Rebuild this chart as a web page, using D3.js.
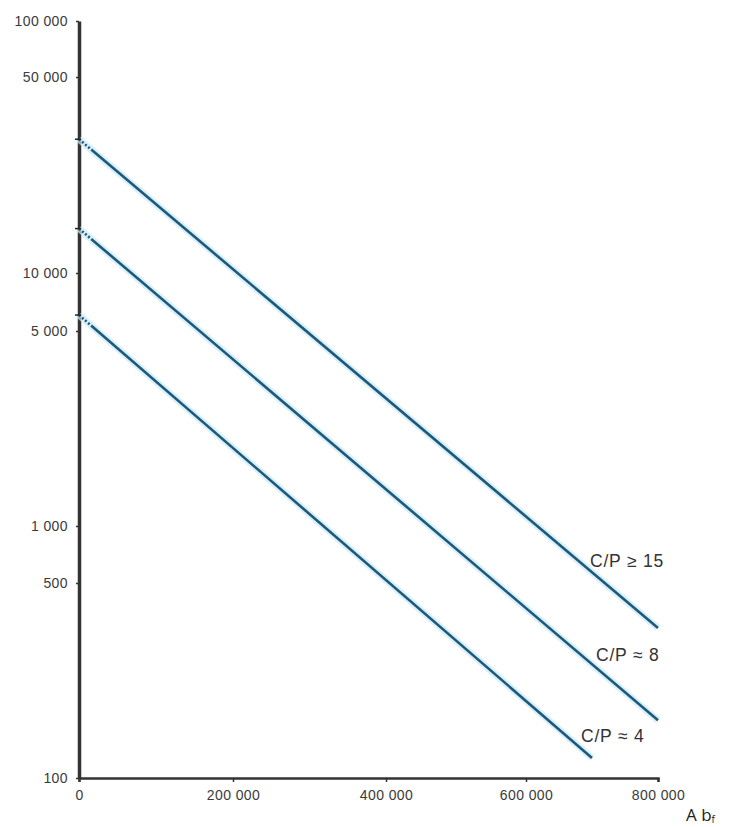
<!DOCTYPE html>
<html>
<head>
<meta charset="utf-8">
<script src="https://cdn.jsdelivr.net/npm/d3@7/dist/d3.min.js"></script>
<style>
  body { margin: 0; background: #fff; }
  svg text { font-family: "Liberation Sans", Arial, sans-serif; }
</style>
</head>
<body>
<div id="chart"></div>
<script>
// tick values (as drawn on the original, the 5x ticks are not true log positions)
const yTicks = [100, 500, 1000, 5000, 10000, 50000, 100000];
const xTicks = [0, 200000, 400000, 600000, 800000];

// series: start / end values
const seriesNames = ["C/P ≥ 15", "C/P ≈ 8", "C/P ≈ 4"];
const seriesX = [[0, 800000], [0, 800000], [0, 700000]];
const seriesY = [[30000, 345], [14400, 161], [6050, 118]];

const width = 729, height = 827;

const svg = d3.select("#chart").append("svg")
  .attr("width", width)
  .attr("height", height);

// piecewise scales to follow the hand-drawn axis spacing
const yScale = d3.scaleLog()
  .domain(yTicks)
  .range([778, 583, 526, 331, 273, 77, 21]);

const xScale = d3.scaleLinear()
  .domain(xTicks)
  .range([79, 233, 386, 526, 658]);

const fmt = (v) => d3.format(",")(v).replace(/,/g, " ");

// X axis
const xAxisG = svg.append("g")
  .attr("transform", `translate(0,${yScale(100)})`)
  .call(d3.axisBottom(xScale).tickValues(xTicks).tickSize(4).tickPadding(8).tickFormat(fmt));
xAxisG.select(".domain").attr("stroke", "#333").attr("stroke-width", 2.5);
xAxisG.selectAll(".tick line").attr("stroke", "#333").attr("stroke-width", 1.5);
xAxisG.selectAll(".tick text")
  .attr("font-size", "14px").attr("fill", "#3a3a3a").attr("letter-spacing", "0.4px");

// Y axis
const yAxisG = svg.append("g")
  .attr("transform", `translate(${xScale(0)},0)`)
  .call(d3.axisLeft(yScale).tickValues(yTicks).tickSize(3).tickSizeOuter(0).tickPadding(8).tickFormat(fmt));
yAxisG.select(".domain").attr("stroke", "#333").attr("stroke-width", 3.5);
yAxisG.selectAll(".tick line").attr("stroke", "#333").attr("stroke-width", 1.5);
yAxisG.selectAll(".tick text")
  .attr("font-size", "14px").attr("fill", "#3a3a3a").attr("letter-spacing", "0.4px");

// Lines
const series = seriesNames.map((name, i) => ({
  name,
  points: seriesX[i].map((x, j) => ({ x, y: seriesY[i][j] }))
}));

const line = d3.line()
  .x((d) => xScale(d.x))
  .y((d) => yScale(d.y));

const linesG = svg.append("g");

// soft halo
linesG.selectAll("path.halo")
  .data(series)
  .join("path")
  .attr("class", "halo")
  .attr("d", (d) => line(d.points))
  .attr("fill", "none")
  .attr("stroke", "#c8e9f7")
  .attr("stroke-width", 7)
  .attr("opacity", 0.7);

// main line, dotted near the axis then solid
linesG.selectAll("path.main")
  .data(series)
  .join("path")
  .attr("class", "main")
  .attr("d", (d) => line(d.points))
  .attr("fill", "none")
  .attr("stroke", "#1e587a")
  .attr("stroke-width", 2.6)
  .attr("stroke-dasharray", "2,2,2,2,2,2,2,2,2000");

// axis start markers
linesG.selectAll("line.start")
  .data(series)
  .join("line")
  .attr("class", "start")
  .attr("x1", xScale(0) - 4).attr("x2", xScale(0) + 2)
  .attr("y1", (d) => yScale(d.points[0].y))
  .attr("y2", (d) => yScale(d.points[0].y))
  .attr("stroke", "#222").attr("stroke-width", 1.5);

// series labels
const labelPos = [[590, 567], [596, 661], [581, 742]];
svg.append("g").selectAll("text")
  .data(series)
  .join("text")
  .attr("x", (d, i) => labelPos[i][0])
  .attr("y", (d, i) => labelPos[i][1])
  .attr("font-size", "17.5px")
  .attr("fill", "#333")
  .attr("letter-spacing", "0.8px")
  .text((d) => d.name);

// axis title bottom right
const t = svg.append("text")
  .attr("x", 686)
  .attr("y", 821)
  .attr("font-size", "17px")
  .attr("fill", "#222")
  .style("font-family", "'Open Sans', sans-serif");
t.append("tspan").text("A b");
t.append("tspan").attr("font-size", "10px").attr("dy", 2).text("f");
</script>
</body>
</html>
